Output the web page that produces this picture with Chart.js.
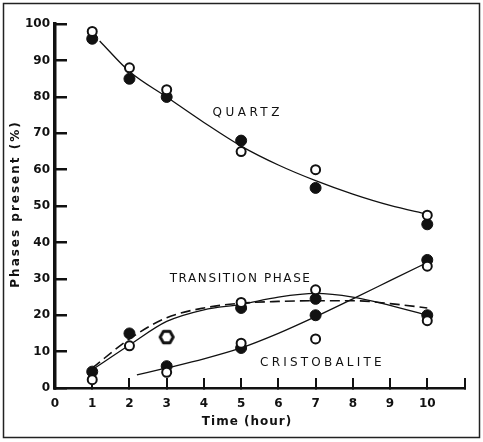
<!DOCTYPE html>
<html><head><meta charset="utf-8">
<script src="https://cdn.jsdelivr.net/npm/chart.js@4"></script>
<style>html,body{margin:0;padding:0;background:#fff;}canvas{display:block}</style>
</head><body>
<canvas id="c" width="483" height="442"></canvas>
<script>
// ---- data ----
const quartzHours = [1, 2, 3, 5, 7, 10];
const quartzFilled = [96, 85, 80, 68, 55, 45];
const quartzOpen = [98, 88, 82, 65, 60, 47.5];
const transHours = [1, 2, 5, 7, 10];
const transFilled = [4.5, 15, 22, 24.5, 20];
const transOpen = [2.3, 11.6, 23.5, 27, 18.5];
const transSpecialHours = [3];
const transSpecial = [14];
const cristHours = [3, 5, 7, 10];
const cristFilled = [6, 11, 20, 35.2];
const cristOpen = [4.3, 12.3, 13.5, 33.5];
const quartzCurveX = [1.2, 2, 3, 4, 5, 6, 7, 8, 9, 10];
const quartzCurveY = [95.4, 87, 80, 73, 66.5, 61.3, 57, 53.3, 50.2, 47.8];
const transCurveX = [1, 2, 3, 4, 5, 6, 7, 8, 9, 10];
const transSolidY = [5, 11.8, 18.3, 21.5, 23, 25, 26, 25, 22.7, 20];
const transDashedY = [5.5, 13.5, 19.3, 22, 23.3, 23.8, 24, 24, 23.2, 22];
const cristCurveX = [2.2, 3, 4, 5, 6, 7, 8, 9, 10];
const cristCurveY = [3.6, 5.5, 8, 11, 15, 19.6, 24.5, 29.5, 34.5];
const xTickLabels = ['0','1','2','3','4','5','6','7','8','9','10'];
const xTitle = 'Time (hour)';
const yTitle = 'Phases present (%)';
const curveLabels = ['QUARTZ', 'TRANSITION PHASE', 'CRISTOBALITE'];
const curveLabelX = [4.23, 3.08, 5.51];
const curveLabelY = [75.6, 30, 6.9];

const pts = (xs, ys) => xs.map((x, i) => ({x, y: ys[i]}));
const INK = '#111';

function hexCanvas(r, lw) {
  const s = Math.ceil(2 * r + lw + 2);
  const c = document.createElement('canvas');
  c.width = s; c.height = s;
  const g = c.getContext('2d');
  g.lineWidth = lw; g.strokeStyle = INK; g.fillStyle = '#fff'; g.lineJoin = 'round';
  g.beginPath();
  for (let i = 0; i < 6; i++) {
    const a = Math.PI / 3 * i;
    const px = s / 2 + r * Math.cos(a), py = s / 2 + r * Math.sin(a);
    i ? g.lineTo(px, py) : g.moveTo(px, py);
  }
  g.closePath(); g.fill(); g.stroke();
  return c;
}

const filledStyle = {showLine: false, pointRadius: 5.5, pointBorderWidth: 1, pointBackgroundColor: INK, pointBorderColor: INK, order: 1};
const openStyle = {showLine: false, pointRadius: 4.5, pointBorderWidth: 2, pointBackgroundColor: '#fff', pointBorderColor: INK, order: 0};
const curveStyle = {showLine: true, pointRadius: 0, borderColor: INK, borderWidth: 1.3, cubicInterpolationMode: 'monotone', order: 2};

const decor = {
  id: 'decor',
  afterDraw(chart) {
    const {ctx, scales: {x, y}} = chart;
    ctx.save();
    ctx.fillStyle = INK;
    ctx.textBaseline = 'middle';
    ctx.textAlign = 'left';
    const spacing = ['3.5px', '1.6px', '3.2px'];
    ctx.font = '12px "DejaVu Sans"';
    curveLabels.forEach((t, i) => {
      ctx.letterSpacing = spacing[i];
      ctx.fillText(t, x.getPixelForValue(curveLabelX[i]), y.getPixelForValue(curveLabelY[i]));
    });
    // axis titles
    ctx.font = 'bold 12px "DejaVu Sans"';
    ctx.textAlign = 'center';
    ctx.letterSpacing = '1px';
    ctx.fillText(xTitle, 247, 422);
    ctx.save();
    ctx.translate(16, 204);
    ctx.rotate(-Math.PI / 2);
    ctx.letterSpacing = '2px';
    ctx.fillText(yTitle, 0, 0);
    ctx.restore();
    // frame
    ctx.letterSpacing = '0px';
    ctx.strokeStyle = '#222';
    ctx.lineWidth = 1.5;
    ctx.strokeRect(3.5, 3.5, 476, 434);
    ctx.restore();
  }
};

new Chart(document.getElementById('c'), {
  type: 'scatter',
  data: {
    datasets: [
      {label: 'Quartz curve', data: pts(quartzCurveX, quartzCurveY), ...curveStyle},
      {label: 'Transition curve', data: pts(transCurveX, transSolidY), ...curveStyle},
      {label: 'Transition curve (dashed)', data: pts(transCurveX, transDashedY), ...curveStyle, borderWidth: 1.6, borderDash: [10, 5]},
      {label: 'Cristobalite curve', data: pts(cristCurveX, cristCurveY), ...curveStyle},
      {label: 'Quartz (filled)', data: pts(quartzHours, quartzFilled), ...filledStyle},
      {label: 'Transition (filled)', data: pts(transHours, transFilled), ...filledStyle},
      {label: 'Cristobalite (filled)', data: pts(cristHours, cristFilled), ...filledStyle},
      {label: 'Quartz (open)', data: pts(quartzHours, quartzOpen), ...openStyle},
      {label: 'Transition (open)', data: pts(transHours, transOpen), ...openStyle},
      {label: 'Cristobalite (open)', data: pts(cristHours, cristOpen), ...openStyle},
      {label: 'Transition (hexagon)', data: pts(transSpecialHours, transSpecial), showLine: false, pointStyle: hexCanvas(6.5, 3), pointRadius: 8, order: 0}
    ]
  },
  options: {
    responsive: false,
    animation: false,
    events: [],
    layout: {padding: {top: 21, right: 17, left: 0, bottom: 0}},
    plugins: {legend: {display: false}, tooltip: {enabled: false}},
    scales: {
      x: {
        type: 'linear', min: 0, max: 11,
        grid: {display: true, drawOnChartArea: false, drawTicks: true, tickLength: -10, color: INK, lineWidth: 2},
        border: {display: true, color: INK, width: 2.5},
        ticks: {stepSize: 1, padding: 18.5, color: INK, font: {family: 'DejaVu Sans', size: 12, weight: 'bold'},
          callback: v => (v < xTickLabels.length ? xTickLabels[v] : '')},
        afterFit: s => { s.height = 54; }
      },
      y: {
        type: 'linear', min: 0, max: 100,
        grid: {display: true, drawOnChartArea: false, drawTicks: true, tickLength: -12, color: INK, lineWidth: 2.5},
        border: {display: true, color: INK, width: 3.5},
        ticks: {stepSize: 10, padding: 17, color: INK, font: {family: 'DejaVu Sans', size: 12, weight: 'bold'}},
        afterFit: s => { s.width = 55; }
      }
    }
  },
  plugins: [decor]
});
</script>
</body></html>
